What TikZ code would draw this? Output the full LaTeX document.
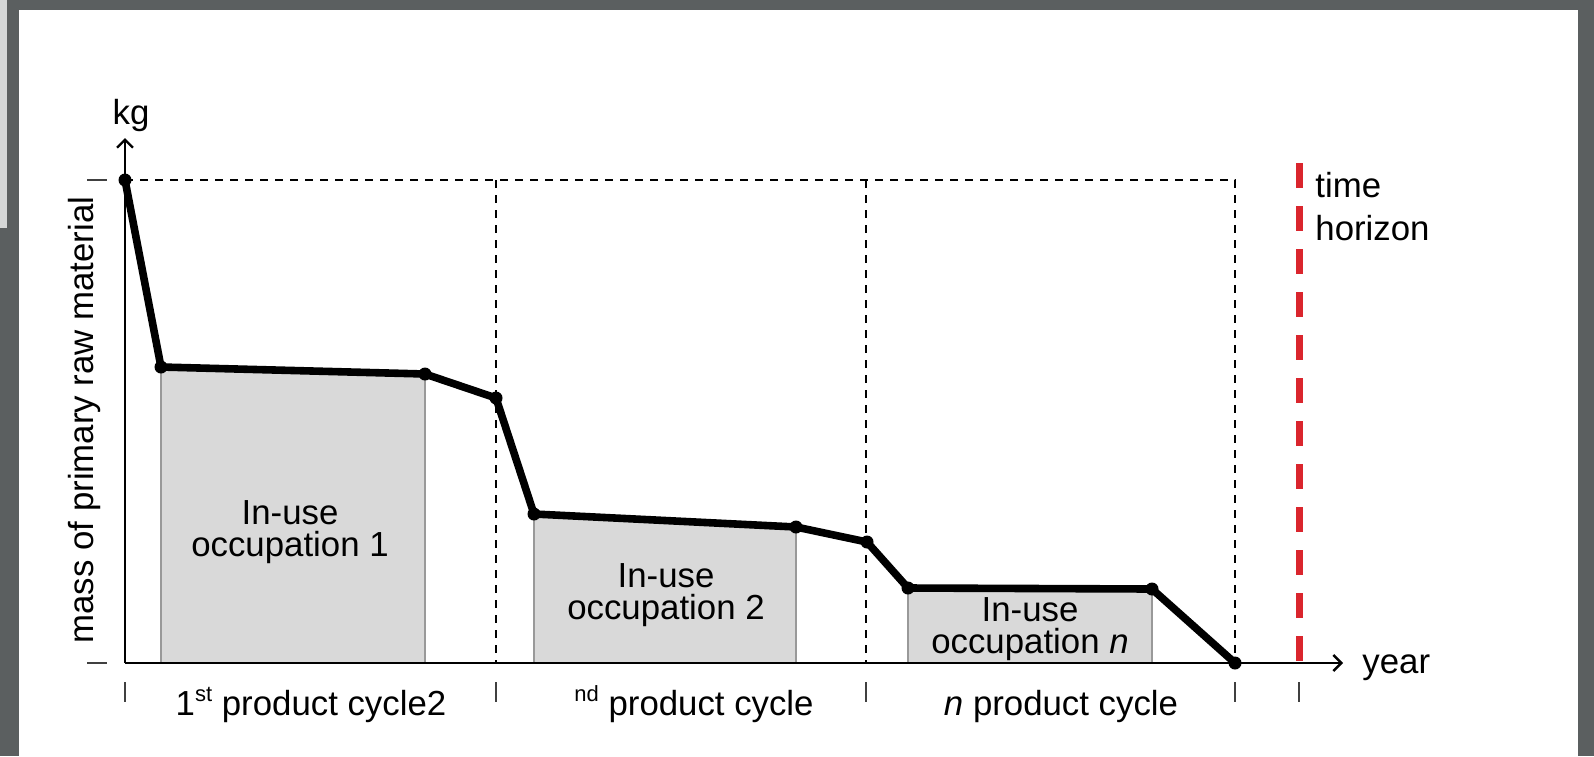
\documentclass[tikz,border=0pt]{standalone}
\usepackage{fontspec}
\setmainfont{Liberation Sans}
\usetikzlibrary{arrows.meta,positioning,calc}
\definecolor{framegray}{HTML}{5B5F60}
\definecolor{stripgray}{HTML}{D5D7D7}
\definecolor{boxgray}{HTML}{D9D9D9}
\definecolor{edgegray}{HTML}{999999}
\definecolor{horizonred}{HTML}{DA252D}

\begin{document}
\begin{tikzpicture}[x=0.5pt,y=-0.5pt,
	txt/.style={font=\fontsize{17.4}{15.8}\selectfont,inner sep=0pt},
	gridline/.style={line width=0.7pt,dash pattern=on 4pt off 3.5pt},
	curve/.style={line width=3.8pt,line join=round},
	dot/.style={circle,fill,inner sep=0pt,minimum size=6.5pt},
	occbox/.style={fill=boxgray,draw=edgegray,line width=0.8pt},
	tickmark/.style={line width=0.6pt,draw=black!75},
	axis/.style={line width=1.2pt,-{Straight Barb[length=4pt,width=8pt]}},
	horizon/.style={horizonred,line width=3.5pt,dash pattern=on 12.5pt off 9pt}]
	% frame
	\fill[framegray] (0,0) rectangle (1594,756);
	\fill[stripgray] (0,0) rectangle (7,228);
	\fill[white] (19,10) rectangle (1578,756);
	\useasboundingbox (0,0) rectangle (1594,756);
	% points of the curve
	\coordinate (o)  at (125,663);
	\coordinate (p0) at (125,180);
	\coordinate (p1) at (161,367);
	\coordinate (p2) at (425,374);
	\coordinate (p3) at (496,398);
	\coordinate (p4) at (534,514);
	\coordinate (p5) at (796,527);
	\coordinate (p6) at (867,542);
	\coordinate (p7) at (908,588);
	\coordinate (p8) at (1152,589);
	\coordinate (p9) at (1235,663);
	\coordinate (tr) at (1235,180);
	% in-use boxes
	\filldraw[occbox] (p1) -- (p2) -- (p2|-o) -- (p1|-o) -- cycle;
	\filldraw[occbox] (p4) -- (p5) -- (p5|-o) -- (p4|-o) -- cycle;
	\filldraw[occbox] (p7) -- (p8) -- (p8|-o) -- (p7|-o) -- cycle;
	% cycle grid
	\draw[gridline] (p0) -- (tr) -- (p9);
	\foreach \x in {496,866}
		\draw[gridline] (\x,180) -- (\x,663);
	% ticks
	\foreach \x in {125,496,866,1235,1299}
		\draw[tickmark] (\x,682) -- (\x,702);
	\foreach \y in {180,663}
		\draw[tickmark] (87,\y) -- (107,\y);
	% axes
	\coordinate (ytip) at (125,138);
	\coordinate (xtip) at (1343,663);
	\draw[axis] (o) -- (ytip);
	\draw[axis] (o) -- (xtip);
	% time horizon
	\coordinate (h0) at (1299,163);
	\coordinate (h1) at (1299,663);
	\draw[horizon] (h0) -- (h1);
	% curve
	\draw[curve] (p0) -- (p1) -- (p2) -- (p3) -- (p4) -- (p5) -- (p6) -- (p7) -- (p8) -- (p9);
	\foreach \i in {0,...,9}
		\node[dot] (d\i) at (p\i) {};
	% texts
	\node[txt,anchor=base] (kg) at (131,124) {kg};
	\node[txt,anchor=base west] (year) at (1362,673) {year};
	\node[txt,anchor=base west] (time) at (1315,197) {time};
	\node[txt,anchor=base west] (hor) at (1315,240) {horizon};
	\node[txt,rotate=90,anchor=base] (ylab) at (93,420) {mass of primary raw material};
	\node[txt,align=center] (occ1) at (290,532) {In-use\\occupation 1};
	\node[txt,align=center] (occ2) at (666,595) {In-use\\occupation 2};
	\node[txt,align=center] (occn) at (1030,629) {In-use\\occupation \textit{n}};
	\node[txt,anchor=base] (cyc1) at (311,715) {1{\fontsize{11}{11}\selectfont\raisebox{7pt}{st}} product cycle2};
	\node[txt,anchor=base] (cyc2) at (694,715) {{\fontsize{11}{11}\selectfont\raisebox{7pt}{nd}} product cycle};
	\node[txt,anchor=base] (cycn) at (1061,715) {\textit{n} product cycle};
\end{tikzpicture}
\end{document}
